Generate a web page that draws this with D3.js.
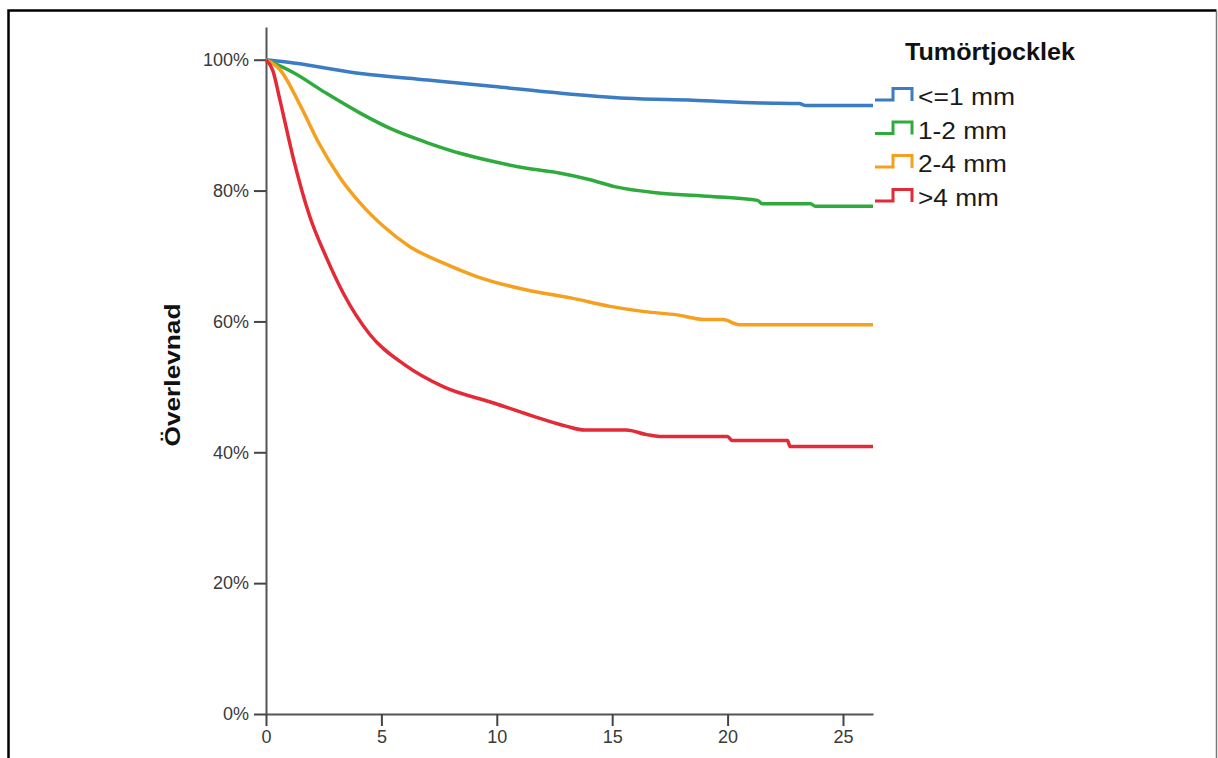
<!DOCTYPE html>
<html>
<head>
<meta charset="utf-8">
<script src="https://cdn.jsdelivr.net/npm/d3@7.9.0/dist/d3.min.js"></script>
<style>
  body { margin: 0; background: #fff; }
  svg { display: block; font-family: "Liberation Sans", Arial, sans-serif; }
</style>
</head>
<body>
<div id="chart"></div>
<script>
// grupper (tumörtjocklek) och färger
const categories = ['<=1 mm', '1-2 mm', '2-4 mm', '>4 mm'];
const colors = ['#3b7cc4', '#2fab3e', '#f5a01f', '#e32a37'];

// överlevnad per år, [år, procent]
const thin = [[0, 100], [1.2, 99.5], [4.1, 97.9], [7.0, 96.9], [9.9, 95.9], [12.7, 94.9],
  [15.6, 94.1], [18.5, 93.8], [21.4, 93.4], [23.1, 93.3], [23.4, 93.0], [26.3, 93.0]];
const medium = [[0, 100], [1.2, 98.0], [2.6, 94.9], [4.1, 91.8], [5.5, 89.3], [7.0, 87.3],
  [8.4, 85.7], [9.9, 84.4], [11.3, 83.4], [12.7, 82.7], [14.0, 81.7], [15.1, 80.6],
  [17.1, 79.6], [19.3, 79.1], [21.3, 78.5], [21.5, 78.0], [23.6, 78.0], [23.8, 77.6], [26.3, 77.6]];
const thick = [[0, 100], [0.6, 98.5], [1.5, 92.9], [2.3, 87.2], [3.2, 82.0], [4.1, 78.0],
  [5.1, 74.5], [6.2, 71.5], [7.7, 68.9], [9.1, 66.9], [11.3, 64.8], [13.2, 63.6],
  [14.9, 62.3], [16.4, 61.5], [17.8, 61.0], [19.0, 60.3], [19.8, 60.3], [20.5, 59.5], [26.3, 59.5]];
const veryThick = [[0, 100], [0.3, 98.3], [0.6, 93.9], [1.2, 84.7], [1.9, 76.0], [2.6, 69.9],
  [3.35, 64.3], [4.5, 58.0], [6.0, 53.4], [7.7, 50.0], [9.9, 47.5], [11.5, 45.6], [13.0, 44.0],
  [13.8, 43.4], [15.6, 43.4], [16.5, 42.7], [17.2, 42.4], [20.0, 42.4], [20.2, 41.8],
  [22.6, 41.8], [22.7, 40.9], [26.3, 40.9]];
const series = [thin, medium, thick, veryThick];

// tick-etiketter
const xTicks = [0, 5, 10, 15, 20, 25];
const yTicks = [0, 20, 40, 60, 80, 100];

const width = 1218;
const height = 758;

const svg = d3.select('#chart')
  .append('svg')
  .attr('width', width)
  .attr('height', height);

// ram runt bilden
svg.append('path')
  .attr('d', `M8.5,${height + 5} V10.5 H1216.5`)
  .attr('fill', 'none')
  .attr('stroke', '#000')
  .attr('stroke-width', 2.5);
svg.append('line')
  .attr('x1', 1216.5).attr('x2', 1216.5)
  .attr('y1', 11).attr('y2', height)
  .attr('stroke', '#777')
  .attr('stroke-width', 1.5);

// skalor
const x = d3.scaleLinear().domain([0, 26.3]).range([266, 873]);
const y = d3.scaleLinear().domain([0, 105]).range([714, 27]);

// x-axel
const xAxis = svg.append('g')
  .attr('transform', `translate(0, ${y(0)})`)
  .call(d3.axisBottom(x).tickValues(xTicks).tickSize(12).tickPadding(4).tickSizeOuter(0));

// y-axel
const yAxis = svg.append('g')
  .attr('transform', `translate(${x(0)}, 0)`)
  .call(d3.axisLeft(y).tickValues(yTicks).tickSize(12).tickPadding(5).tickSizeOuter(0)
    .tickFormat(d => d + '%'));

[xAxis, yAxis].forEach(g => {
  g.select('.domain').attr('stroke', '#555').attr('stroke-width', 2);
  g.selectAll('.tick line').attr('stroke', '#444').attr('stroke-width', 2);
  g.selectAll('.tick text')
    .attr('fill', '#3a3a3a')
    .style('font-size', '18px')
    .style('font-family', '"Liberation Sans", Arial, sans-serif');
});

// y-axelns titel
svg.append('text')
  .attr('transform', `translate(180, 375) rotate(-90)`)
  .attr('text-anchor', 'middle')
  .attr('textLength', 143)
  .attr('lengthAdjust', 'spacingAndGlyphs')
  .style('font-size', '22px')
  .style('font-weight', 'bold')
  .attr('fill', '#111')
  .text('Överlevnad');

// kurvor
const line = d3.line()
  .x(d => x(d[0]))
  .y(d => y(d[1]))
  .curve(d3.curveMonotoneX);

svg.selectAll('path.curve')
  .data(series)
  .join('path')
  .attr('class', 'curve')
  .attr('d', line)
  .attr('fill', 'none')
  .attr('stroke', (d, i) => colors[i])
  .attr('stroke-width', 3.5)
  .attr('stroke-linejoin', 'round');

// legend
svg.append('text')
  .attr('x', 905)
  .attr('y', 60)
  .attr('textLength', 170)
  .attr('lengthAdjust', 'spacingAndGlyphs')
  .style('font-size', '23px')
  .style('font-weight', 'bold')
  .attr('fill', '#111')
  .text('Tumörtjocklek');

const legendY = [97, 130.5, 164, 198];
const legendW = [97, 89, 89, 81];

const items = svg.selectAll('g.legend-item')
  .data(categories)
  .join('g')
  .attr('class', 'legend-item')
  .attr('transform', (d, i) => `translate(0, ${legendY[i]})`);

items.append('path')
  .attr('d', 'M875,3 H893 V-8.5 H912 V4')
  .attr('fill', 'none')
  .attr('stroke', (d, i) => colors[i])
  .attr('stroke-width', 3);

items.append('text')
  .attr('x', 918)
  .attr('y', 8)
  .attr('textLength', (d, i) => legendW[i])
  .attr('lengthAdjust', 'spacingAndGlyphs')
  .style('font-size', '23px')
  .attr('fill', '#1a1a1a')
  .text(d => d);
</script>
</body>
</html>
